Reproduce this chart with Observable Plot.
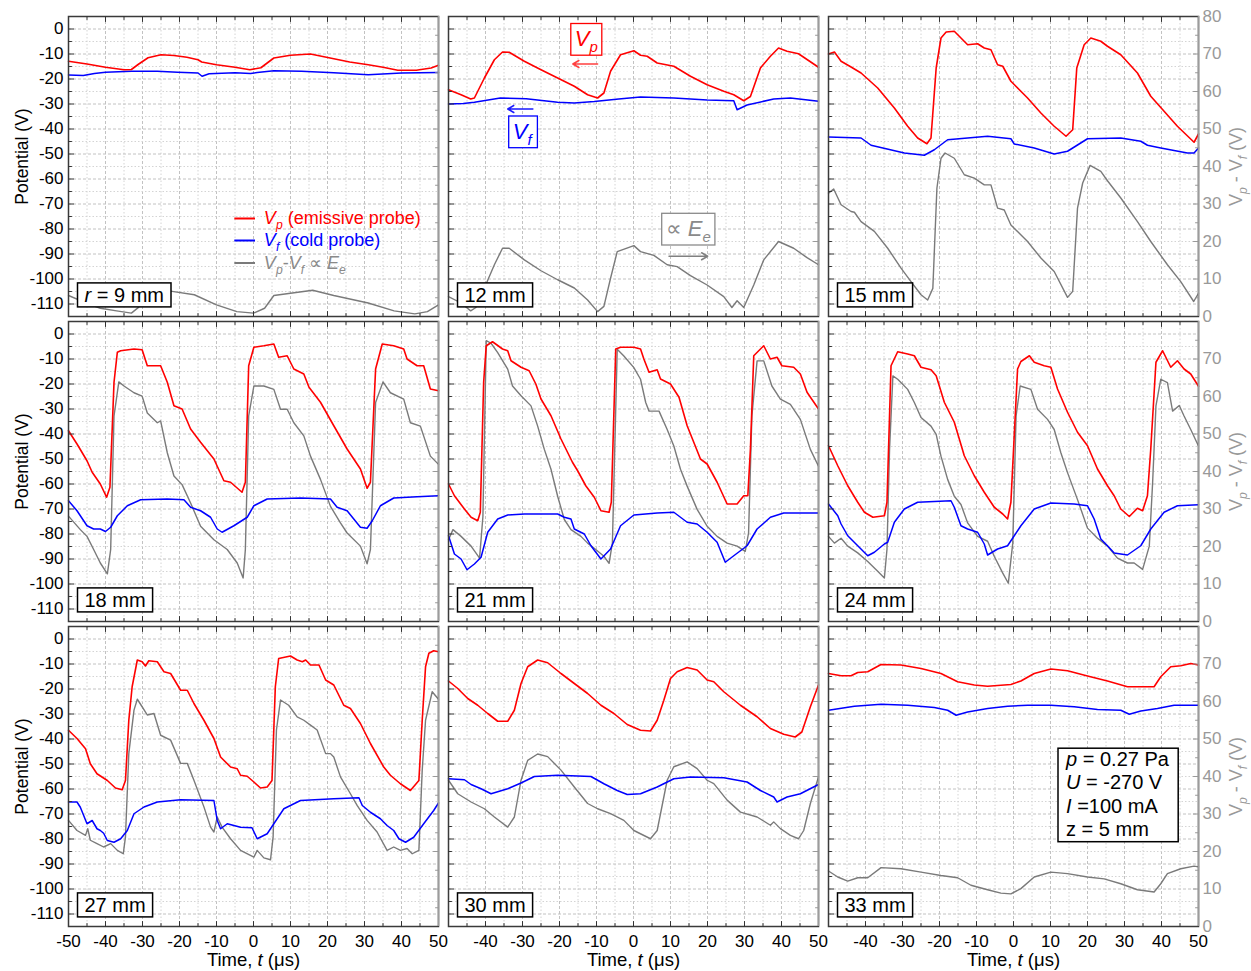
<!DOCTYPE html>
<html><head><meta charset="utf-8">
<script src="https://cdn.jsdelivr.net/npm/d3@7"></script>
<script src="https://cdn.jsdelivr.net/npm/@observablehq/plot@0.6"></script>
<style>html,body{margin:0;padding:0;background:#fff;overflow:hidden}</style>
</head><body><div id="chart"></div>
<script>
// ---------------- DATA (time t in µs, potential in V; dv = Vp - Vf on the right axis) ----------------
const panelLabels = ["*r* = 9 mm","12 mm","15 mm","18 mm","21 mm","24 mm","27 mm","30 mm","33 mm"];

const vp09 = [[-50,-12.9],[-45,-14],[-40,-15.3],[-35,-16.3],[-33,-16.2],[-31,-14],[-28.5,-11.5],[-25,-10.3],[-21.5,-10.6],[-18,-11.3],[-15,-12.3],[-14,-13.2],[-10,-14.3],[-5,-15.3],[-1,-16.3],[2,-15.5],[3.7,-13.6],[5.5,-11.6],[10,-10.5],[15.4,-10],[21.7,-11.9],[26,-13.2],[31,-14.3],[35,-15.3],[39,-16.5],[44,-16.5],[48,-15.6],[50,-14.5]];
const vf09 = [[-50,-18.4],[-46,-18.6],[-43,-17.8],[-40,-17.3],[-33,-16.9],[-26,-16.9],[-20.5,-17.3],[-15,-17.6],[-13.9,-18.9],[-12,-17.9],[-5,-17.5],[-0.8,-17.8],[1,-17.4],[5.5,-16.7],[13,-16.9],[21.7,-17.5],[31,-18.3],[40,-17.6],[50,-17.4]];
const dv09 = [[-50,5.6],[-45,3.5],[-41.4,2.2],[-37,1.5],[-33,0.9],[-31,2.5],[-29,5.5],[-26,7],[-22,6.7],[-16,5.8],[-10,3.1],[-4.5,1.3],[0,0.9],[3,2.2],[5.5,5.6],[10,6.2],[16,7],[21.7,5.6],[31,3.6],[38,1.5],[43.6,0.7],[47,1.3],[50,3.1]];

const vp12 = [[-50,-24.3],[-46.6,-26.3],[-44,-28],[-43,-27.6],[-40.3,-19.6],[-37.6,-12.3],[-35.4,-9.2],[-33.6,-9.3],[-29.5,-12.9],[-25,-16.3],[-20.5,-19.6],[-16,-22.9],[-12.4,-26.3],[-9.7,-27.6],[-8,-25.6],[-6.2,-16.9],[-3.5,-10.3],[0.1,-8.7],[1.9,-10.5],[3.7,-10.9],[6.4,-13.6],[10.9,-14.9],[15.4,-18.9],[19.9,-22.3],[24.4,-24.9],[27.1,-26.3],[29.8,-28.7],[31.6,-27],[34.3,-15.6],[37,-10.9],[39.2,-7.6],[41.5,-8.9],[44.6,-9.9],[47,-12.3],[50,-15.3]];
const vf12 = [[-50,-30],[-46,-29.8],[-43,-29.3],[-36,-27.6],[-29,-27.9],[-20.5,-29.3],[-16,-29.6],[-10.6,-29],[-4,-28],[1.9,-27.2],[10.9,-27.6],[19.9,-28.4],[27.1,-28.7],[28,-32.3],[30.7,-30.4],[37.9,-28],[42.4,-27.6],[50,-28.9]];
const dv12 = [[-50,5.3],[-46.6,3.6],[-44,1.5],[-42.6,2.4],[-40.3,7.6],[-37.6,13.8],[-35.4,18.2],[-33.6,18.2],[-29.5,15.1],[-25,12.2],[-20.5,9.8],[-16,7.6],[-12.4,4.4],[-9.7,1.3],[-8,2.7],[-6.2,10.2],[-4.4,17.3],[0.1,18.9],[1.9,17.3],[5.5,16.3],[9.1,13.8],[11.8,13.3],[15.4,10.9],[19.9,8.4],[24.4,5.3],[26.6,2.4],[28,4.2],[29.8,2.4],[32.5,8.4],[35.2,15.1],[39.2,20],[43.3,18.2],[46.9,15.7],[50,13.8]];

const vp15 = [[-50,-10],[-48.4,-9.2],[-46.6,-12.9],[-43.9,-15.2],[-41.2,-17.6],[-36.7,-23.6],[-32.2,-31.6],[-28.6,-38.9],[-25.9,-43.6],[-23.4,-45.9],[-22.3,-43.6],[-20.9,-15.6],[-19.6,-3.6],[-18.2,-1.2],[-16,-0.9],[-14.2,-3.6],[-12.4,-6.3],[-9.7,-5.9],[-7.9,-7.6],[-6.1,-8.3],[-4.3,-14.3],[-2.9,-14.9],[-0.7,-20.9],[3.8,-27.6],[7.4,-33.6],[11,-38.9],[14.2,-42.9],[16,-40.3],[17.1,-15.6],[19.1,-6.3],[20.9,-3.6],[23.6,-4.9],[25.4,-6.9],[29,-10.3],[33.5,-17.6],[37.1,-26.9],[40.7,-32.9],[44.3,-38.9],[48.8,-45.3],[50,-42]];
const vf15 = [[-50,-43.2],[-41.2,-43.6],[-38.5,-46.5],[-29.5,-49.6],[-24.1,-50.5],[-21.4,-48.3],[-17.8,-44.3],[-7,-42.9],[-0.7,-43.9],[0.2,-46],[5.6,-47.6],[11,-50],[14.6,-48.9],[20,-43.9],[29,-43.6],[34.4,-44.9],[36.2,-46.5],[39.8,-47.6],[43.4,-48.6],[47,-49.6],[48.8,-49.6],[50,-47.6]];
const dv15 = [[-50,32.9],[-48.6,34],[-46.6,29.8],[-43.9,28],[-43,27.8],[-41.2,25.3],[-37.6,22.7],[-34,18.2],[-30.4,12.9],[-27.7,9.3],[-25,5.8],[-23.2,4.4],[-21.8,7.5],[-20.7,34.2],[-19.6,42.2],[-18.5,43.6],[-16,42.2],[-13.3,37.8],[-10.6,36.9],[-7.9,35.1],[-6.1,35.1],[-4.3,28.9],[-2.5,28.4],[-0.7,24.4],[3.8,20],[7.4,15.6],[11,12],[14.6,5.1],[16,6.7],[17.3,28.9],[18.7,35.6],[20.7,40.3],[23.6,38.7],[25.4,36.2],[29,31.6],[33.5,25.3],[37.1,20],[41.6,13.8],[45.2,9.3],[48.7,4],[50,6.2]];

const vp18 = [[-50,-38.7],[-47.7,-44],[-45,-50.7],[-43.6,-55.3],[-41.4,-60],[-39.7,-65.3],[-38.8,-61.3],[-37.7,-19.3],[-36.8,-7.3],[-35.9,-6.7],[-32.3,-6],[-30.1,-6.3],[-28.7,-12.7],[-25.1,-12.7],[-23.3,-19.3],[-21.5,-28.7],[-19.3,-30],[-17,-38],[-14.3,-43.3],[-10.7,-50],[-8,-58.7],[-6.2,-59.3],[-3.1,-63.3],[-2.2,-59.3],[-1.3,-12.7],[0.1,-5.3],[2.8,-4.7],[5.5,-4],[6.8,-9.3],[9.1,-8.7],[10.9,-14],[13.6,-16],[15,-21.3],[18.1,-27.3],[21.7,-36.7],[25.3,-46],[28.9,-54],[30.7,-61.7],[31.6,-59.3],[33,-14],[34.8,-4],[37.9,-4.7],[40.6,-6],[41.5,-10],[44.2,-12.7],[46,-12.7],[47.8,-22],[50,-22.7]];
const vf18 = [[-50,-66.7],[-47.7,-70.7],[-45,-76.7],[-43.2,-78],[-41.4,-78],[-40,-79],[-38.6,-77.3],[-36.8,-72.7],[-34.1,-68.7],[-30.5,-66.3],[-23.3,-66],[-18.8,-66.3],[-17,-69.3],[-14.3,-70.7],[-11.6,-73.3],[-9.8,-78],[-8.5,-79.3],[-5.3,-76.7],[-1.7,-73.3],[0.1,-68.7],[3.7,-66],[12.7,-65.6],[20.8,-66],[22.6,-69.3],[25.3,-70.7],[27.1,-74],[28.9,-77.3],[30.7,-77.7],[32.1,-74.7],[34.3,-68.7],[37.9,-65.6],[44.2,-65.1],[50,-64.7]];
const dv18 = [[-50,28.1],[-46.8,24.5],[-45,22.7],[-43.2,19.2],[-41.4,15.6],[-39.5,12.7],[-38.6,19.2],[-37.7,54.8],[-36.4,63.9],[-35,62.8],[-32.3,61],[-30.1,60.1],[-28.7,55.6],[-26,53],[-25.1,53.5],[-23.3,45],[-21.5,38.8],[-19.3,36.5],[-17,31.6],[-14.3,25.4],[-10.7,21.8],[-7.1,19.2],[-4.4,15.6],[-2.8,11.6],[-2.2,19.2],[-1.3,54.8],[0.1,62.8],[2.8,62.8],[5.5,61.9],[7.3,56.6],[9.1,56.6],[10.9,53],[13.6,49.5],[15.4,44.1],[18.1,37.9],[20.8,30.7],[23.5,26.3],[25.3,23.6],[28.9,20.1],[30.7,15.4],[31.6,19.2],[33,58.4],[35,63.9],[37,61],[40.6,59.3],[42.4,53],[45.1,52.1],[47.8,44.1],[50,41.9]];

const vp21 = [[-50,-60],[-48.4,-64.7],[-45.7,-70],[-43.9,-73.3],[-42.1,-74.7],[-41.4,-71.3],[-40.5,-19.3],[-39.8,-4.7],[-38.1,-3.1],[-35.4,-6],[-34,-6.7],[-33.1,-10.7],[-30.4,-13.3],[-28.2,-14.7],[-26.4,-20],[-25,-26],[-22.3,-32.7],[-19.6,-42],[-16.5,-51.3],[-15.1,-54.7],[-12.9,-60.7],[-10.6,-65.3],[-8.8,-70.7],[-6.6,-71.3],[-6,-67.3],[-4.8,-6],[-3.5,-5.3],[0.1,-5.3],[1.9,-6],[2.8,-10],[4.2,-15.3],[6.4,-14.3],[7.3,-18],[10,-20],[12.3,-25.3],[14.5,-36.7],[18.1,-50],[19.9,-52],[22.6,-59.3],[25.3,-68],[28,-68],[29.8,-64.7],[30.9,-64.7],[31.6,-46],[32.5,-8.7],[35.2,-4.7],[37,-10],[38.8,-9.3],[40.1,-12.7],[43.3,-13.3],[45.1,-16],[46.9,-23.3],[50,-30]];
const vf21 = [[-50,-80.7],[-48.4,-88],[-46.6,-90],[-45,-94.3],[-43,-92],[-41.2,-89.3],[-39.4,-79.3],[-36.7,-74],[-34,-72.4],[-29.5,-72],[-20.5,-72],[-18.7,-73.3],[-16.9,-74],[-16,-78],[-13.3,-80],[-11.5,-84.7],[-8.8,-90],[-6.2,-86],[-3.5,-76.7],[0.1,-72.4],[6.4,-71.6],[10.9,-71.3],[14.5,-75.3],[17.2,-76],[19.9,-79.3],[22.6,-83.3],[24.8,-91.3],[27.1,-88.7],[30.7,-84.7],[33.4,-78],[37,-73.3],[40.6,-71.6],[50,-71.6]];
const dv21 = [[-50,21.8],[-48.8,24.5],[-46.6,22.7],[-43.9,20.1],[-41.6,16.9],[-40.7,28],[-39.8,74.9],[-38.5,74.2],[-36.7,71.7],[-34,67.3],[-32.7,62.8],[-30.4,60.2],[-27.7,57.5],[-25.9,52.1],[-24.1,45.9],[-22.3,40.6],[-20.5,33.4],[-18.7,27.2],[-16.9,24.5],[-14.2,22.7],[-12.4,20.9],[-10.2,19.2],[-8,17.4],[-6.6,15.5],[-5.7,21],[-4.4,72.6],[-2.6,70.8],[0.1,67.7],[1.9,64.6],[3.3,58.4],[4.2,56.1],[6.9,56.1],[9.1,51.2],[10.9,46.8],[12.7,40.6],[14.5,36.1],[17.2,29.9],[19.9,25.4],[22.6,22.7],[25.3,20.9],[28,20.1],[30.2,18.7],[31.1,23.6],[32,54.8],[33.4,69.5],[35.2,69.5],[37.4,62.8],[39.7,59.3],[42.4,57.9],[45.1,53.9],[47.8,45.9],[50,41.4]];

const vp24 = [[-50,-44.7],[-47.5,-52.7],[-44.8,-60.7],[-42.1,-67.3],[-40.3,-71.3],[-38,-73.3],[-34.9,-72.7],[-34.2,-67.3],[-33.1,-12.7],[-31.3,-7.1],[-28.6,-8],[-26.8,-8.7],[-25,-13.3],[-22.3,-14.3],[-20.9,-16.7],[-18.7,-27.3],[-16,-35.3],[-13.3,-48.7],[-10.6,-56.7],[-7.9,-63.3],[-5.2,-69.3],[-2.9,-72],[-1.6,-74],[-0.7,-67.3],[1.1,-14],[2,-11],[4.3,-8.7],[5.6,-11.3],[8.3,-12.7],[10.1,-13.3],[11.9,-22],[14.6,-31.3],[17.3,-39.3],[20,-44.7],[22.7,-54],[25.4,-60.7],[27.2,-64.7],[29,-70],[31.3,-73],[33.5,-69.7],[34.9,-70.7],[36.2,-64.7],[37.1,-46],[38.5,-11.3],[40.3,-6.7],[42.5,-13.3],[44.3,-10.7],[46.1,-14],[47.9,-16],[50,-20.9]];
const vf24 = [[-50,-68],[-47.5,-72.7],[-46.6,-76],[-44.8,-80.7],[-42.1,-84.7],[-39.4,-88.7],[-37.6,-87.3],[-34.9,-84],[-34,-83.3],[-32.2,-75.3],[-29.5,-70],[-25.9,-67.3],[-16.9,-66.7],[-16,-69.3],[-14.2,-76.7],[-12.4,-78],[-9.7,-79.3],[-7.9,-84],[-7,-88.4],[-4.3,-86],[-1.6,-84.7],[2,-76.7],[5.6,-70],[10.1,-67.6],[16.4,-68],[20,-68.7],[21.8,-74],[23.6,-82],[25.4,-84.7],[27.2,-87.6],[30.8,-88.4],[34.4,-84.7],[37.1,-78],[40.7,-71.3],[44.3,-68.7],[50,-68.3]];
const dv24 = [[-50,22.7],[-48.4,20.9],[-46.6,22.2],[-44.8,20.1],[-42.1,18.3],[-39.4,16],[-36.7,13.4],[-34.9,11.6],[-34.2,19.2],[-33.5,45.9],[-32.6,65.5],[-31.3,64.6],[-28.6,61.9],[-26.8,58.4],[-25,54.4],[-22.3,52.1],[-20.9,49.9],[-19.6,44.1],[-17.8,37.9],[-16,33.4],[-14.2,31.2],[-12.4,26.3],[-9.7,22.7],[-7,21.4],[-5.2,17.4],[-2.9,12.9],[-1.4,10.2],[-0.2,20.9],[0.7,54.8],[1.8,62.8],[4.7,61.9],[6.5,56.6],[9.2,53.9],[11,51.2],[12.8,45],[14.6,39.7],[17.3,32.5],[20,24.9],[22.7,22.2],[25.4,20.1],[28.1,16.9],[30.8,15.6],[32.6,15.6],[34.9,13.9],[36.7,20.1],[37.6,37],[38.5,57.5],[39.8,64.6],[41.6,63.7],[43,56.1],[44.8,57.6],[46.1,54.8],[47.9,51.2],[50,46.8]];

const vp27 = [[-50,-36.5],[-47.7,-39.8],[-45.4,-43.9],[-44.1,-49.9],[-42.3,-53.9],[-39.5,-56.6],[-37.3,-59.6],[-35.5,-60.3],[-34.6,-56.6],[-33.7,-32.5],[-32.8,-19.1],[-31.4,-8.4],[-30.1,-9.1],[-29.2,-10.8],[-28.3,-8.7],[-26,-9.1],[-24.2,-13.1],[-22.4,-13.8],[-19.7,-20.5],[-17.9,-20.5],[-16.1,-25.8],[-13.4,-32.5],[-10.7,-39.8],[-8.9,-47.2],[-6.2,-51.2],[-4.4,-51.9],[-3.5,-54.5],[-1.7,-54.9],[0.1,-57.2],[1.9,-59.6],[3.7,-59.2],[5,-56.6],[5.9,-19.1],[6.8,-7.8],[10,-6.8],[11.8,-8.4],[13.2,-9.1],[14.1,-8.4],[15.4,-10.4],[17.7,-10.4],[19.5,-16.4],[21.7,-18.4],[24.4,-26.5],[26.2,-27.8],[28.9,-33.8],[31.6,-41.8],[35.2,-51.2],[37,-54.5],[39.7,-57.9],[42.4,-60.6],[44.7,-56.6],[45.6,-32.5],[46.5,-11.1],[47.4,-5.7],[48.7,-4.7],[50,-5.1]];
const vf27 = [[-50,-65.2],[-47.7,-65.2],[-46.8,-67.3],[-45,-73.9],[-43.6,-72.6],[-42.3,-75.9],[-41.4,-76.6],[-40.5,-77.7],[-39.5,-80.6],[-37.7,-81.3],[-35.9,-79.9],[-34.1,-76.6],[-32.3,-69.9],[-29.6,-67.2],[-26,-65.2],[-19.7,-64.3],[-10.7,-64.6],[-9.8,-72.6],[-8.9,-75.9],[-7.1,-73.9],[-5.3,-74.6],[-3.5,-75.3],[-0.4,-75.5],[1,-79.9],[3.7,-77.9],[5.5,-73.9],[8.2,-67.9],[12.7,-64.6],[21.7,-63.9],[28.5,-63.5],[29.4,-66.6],[31.6,-69.3],[34.3,-71.9],[36.1,-74.6],[37.9,-76.6],[39.3,-79.9],[41.1,-81.3],[43.3,-79.3],[46,-73.9],[48.7,-68.6],[50,-65.6]];
const dv27 = [[-50,28.3],[-47.7,25.6],[-45.4,24.3],[-44.8,26.1],[-44.1,23],[-42.3,22.1],[-40.5,21.2],[-38.6,22.1],[-36.8,20.3],[-35.2,19.4],[-34.6,23.9],[-33.7,46.1],[-32.3,57.7],[-31.4,60.6],[-30.1,58.6],[-28.7,56.4],[-26.9,56.8],[-25.1,51],[-22.4,49.7],[-19.7,43.5],[-17.9,43.5],[-16.1,39],[-13.4,31.9],[-11.6,26.5],[-10.7,25.2],[-9.8,29.2],[-8.5,26.5],[-6.2,23.4],[-3.5,20.3],[0.1,18.5],[1,20.3],[2.8,18.3],[4.6,17.8],[5.3,23.9],[6.2,52.4],[7.3,60.4],[9.5,59],[11.8,55.9],[13.6,55],[15.4,53.7],[17.2,52.4],[19.5,46.1],[20.8,46.1],[21.7,45.2],[23.5,39.9],[26.2,35.4],[28,32.3],[30.7,28.3],[33.4,25.2],[36.1,20.3],[37.9,21.2],[39.7,20.3],[41.5,20.8],[42.9,19.4],[44.7,20.3],[45.6,41.7],[46.5,55],[48.3,62.6],[50,60.6]];

const vp30 = [[-50,-16.8],[-47.5,-19.8],[-44.8,-23.8],[-42.1,-26.5],[-39.4,-29.8],[-36.7,-32.9],[-34,-32.9],[-32.2,-28.5],[-30.4,-17.8],[-28.6,-11.1],[-25.9,-8.4],[-23.2,-9.5],[-19.6,-13.8],[-16,-17.8],[-12.4,-21.8],[-8.8,-26.5],[-5.3,-29.8],[-1.7,-34.2],[1.9,-36.5],[4.6,-36.8],[6.4,-32.5],[8.2,-24.5],[10,-15.8],[11.8,-13.1],[14.5,-11.4],[17.2,-12.4],[19.9,-16.4],[21.7,-17.1],[24.4,-21.1],[28.9,-26.5],[33.4,-31.1],[37,-35.8],[40.6,-38.1],[43.7,-39.2],[45.5,-37.2],[47.8,-27.1],[50,-18.4]];
const vf30 = [[-50,-55.9],[-45.7,-56.3],[-43.9,-58.2],[-41.2,-59.9],[-38.5,-61.9],[-34,-59.9],[-30.4,-57.6],[-26.8,-55],[-20.5,-54.5],[-11.5,-55],[-8,-57.9],[-4.4,-60.6],[-1.7,-62.2],[1.9,-61.9],[6.4,-59.2],[10.9,-55.9],[15.4,-55.2],[24.4,-55.5],[30.7,-57.2],[34.3,-60.6],[37.9,-63.2],[38.8,-65.2],[41.5,-63.2],[45.1,-61.9],[50,-58.2]];
const dv30 = [[-50,39],[-47.5,35.4],[-43.9,33.2],[-40.3,31.4],[-37.6,29.2],[-34,26.5],[-32.2,29.2],[-30.4,39],[-28.6,44.3],[-25.9,46],[-23.2,45.3],[-19.6,41.7],[-16,37.2],[-12.4,32.8],[-9.7,31.4],[-6.2,30.1],[-2.6,28.3],[0.1,25.6],[4.6,23.4],[6.4,25.6],[9.1,39],[10.9,42.6],[14.5,43.9],[17.2,42.1],[19.9,39],[21.7,38.1],[25.3,33.7],[28.9,30.5],[33.4,29.2],[37,27],[37.9,27.9],[39.7,26.1],[42.4,24.3],[44.6,23.4],[46,25.6],[47.8,32.8],[50,39.9]];

const vp33 = [[-50,-13.8],[-46.6,-14.7],[-43.9,-14.7],[-42.1,-13.4],[-39.4,-13.1],[-35.8,-10.2],[-30.4,-10.4],[-25,-11.8],[-19.6,-13.8],[-15.1,-17.1],[-10.6,-18.4],[-7,-18.9],[-0.7,-18.2],[2,-16.8],[5.6,-13.8],[10.1,-12],[14.6,-12.7],[20,-14.8],[25.4,-16.8],[30.8,-19.1],[38,-19.1],[39.8,-15.1],[42.5,-11.1],[45.2,-10.7],[47.9,-9.8],[50,-10.4]];
const vf33 = [[-50,-28.5],[-43,-26.9],[-35.8,-26.1],[-28.6,-26.5],[-21.4,-27.4],[-17.8,-28.5],[-15.5,-30.5],[-12.4,-29.2],[-7,-27.8],[-1.6,-26.9],[3.8,-26.5],[10.1,-26.5],[16.4,-27.1],[22.7,-28.2],[29,-28.5],[31.3,-30.1],[34.4,-28.8],[38.9,-27.8],[43.4,-26.5],[50,-26.5]];
const dv33 = [[-50,14.8],[-47.5,13.2],[-44.8,12.1],[-42.1,13],[-39.4,13],[-35.8,15.7],[-30.4,15.4],[-25,14.5],[-19.6,13.6],[-15.1,13],[-11.5,11],[-7,9.8],[-3.4,8.9],[-0.7,8.7],[2,10.1],[5.6,13.2],[10.1,14.5],[14.6,14.1],[20,13.2],[24.5,12.7],[29,11.4],[33.5,9.8],[38,9.2],[39.8,11.4],[41.6,14.1],[45.2,15.4],[48.8,16.1],[50,15.9]];

const vpSeries = [vp09, vp12, vp15, vp18, vp21, vp24, vp27, vp30, vp33];
const vfSeries = [vf09, vf12, vf15, vf18, vf21, vf24, vf27, vf30, vf33];
const dvSeries = [dv09, dv12, dv15, dv18, dv21, dv24, dv27, dv30, dv33];

// tick values
const xMajor = [-40,-30,-20,-10,0,10,20,30,40];
const xMinor = [-45,-35,-25,-15,-5,5,15,25,35,45];
const xLabels = [-40,-30,-20,-10,0,10,20,30,40,50];
const yMajor = [-110,-100,-90,-80,-70,-60,-50,-40,-30,-20,-10,0];
const yMinor = [-105,-95,-85,-75,-65,-55,-45,-35,-25,-15,-5];
const gMajor = [0,10,20,30,40,50,60,70];
const gMinor = [5,15,25,35,45,55,65,75];

// legend / annotation texts
const legendTexts = ["*V*_p_ (emissive probe)", "*V*_f_ (cold probe)", "*V*_p_-*V*_f_ ∝ *E*_e_"];
const noteTexts = ["*V*_p_", "*V*_f_", "∝ *E*_e_"];
const paramTexts = ["*p* = 0.27 Pa", "*U* = -270 V", "*I* =100 mA", "z = 5 mm"];

// ---------------- scales / layout ----------------
const Y0 = -115, Y1 = 5, G1 = 80;              // left axis domain; right axis 0..80
const g2v = g => Y0 + (Y1 - Y0) * g / G1;
const v2g = v => (v - Y0) * G1 / (Y1 - Y0);
const RED = "#ff0000", BLUE = "#0000ff", GRAY = "#7a7a7a", LGRAY = "#999999";

const rowsOf = (list, conv = v => v) =>
  list.flatMap((pts, i) => pts.map(([t, v]) => ({col: i % 3, row: Math.floor(i / 3), t, v: conv(v)})));
const dataVp = rowsOf(vpSeries), dataVf = rowsOf(vfSeries), dataDv = rowsOf(dvSeries, g2v);
const panels = panelLabels.map((label, i) => ({col: i % 3, row: Math.floor(i / 3), label}));

const legendLayout = [
  {t1: -5.05, t2: 0.54, tt: 2.8, v: -75.8, color: RED, tcolor: RED},
  {t1: -5.05, t2: 0.54, tt: 2.8, v: -84.6, color: BLUE, tcolor: BLUE},
  {t1: -5.05, t2: 0.54, tt: 2.8, v: -93.6, color: GRAY, tcolor: "#8a8a8a"}
].map((d, i) => ({...d, col: 0, row: 0, text: legendTexts[i]}));
const noteLayout = [
  {t: -12.76, v: -4.0, color: RED},
  {t: -30.1, v: -41.0, color: BLUE},
  {t: 14.8, v: -79.9, color: "#8a8a8a"}
].map((d, i) => ({...d, col: 1, row: 0, text: noteTexts[i]}));
const arrowLayout = [
  {t1: -9.7, t2: -16.4, v: -14.0, color: "#ff4040"},
  {t1: -27.2, t2: -34.0, v: -32.0, color: "#1a1aff"},
  {t1: 9.6, t2: 20.05, v: -90.9, color: "#808080"}
].map(d => ({...d, col: 1, row: 0}));
const paramLayout = [-48.3, -57.3, -67.2, -76.3].map((v, i) => ({col: 2, row: 2, t: 14.2, v, text: paramTexts[i]}));

const tickShape = {draw(ctx, l) { ctx.moveTo(0, 0); ctx.lineTo(0, -l); }};
const edge = (values, opts) => Plot.vector(values, {anchor: "start", shape: tickShape, strokeWidth: 1, ...opts});
const F = {fx: "col", fy: "row"};

const plot = Plot.plot({
  width: 1251, height: 971,
  marginLeft: 68, marginRight: 53, marginTop: 15, marginBottom: 45,
  style: {fontFamily: "'Liberation Sans', Arial, Helvetica, sans-serif", background: "#fff", color: "#000"},
  x: {domain: [-50, 50], axis: null},
  y: {domain: [Y0, Y1], axis: null},
  fx: {domain: [0, 1, 2], axis: null, paddingInner: 10 / 380, paddingOuter: 0},
  fy: {domain: [0, 1, 2], axis: null, paddingInner: 5.5 / 305.5, paddingOuter: 0},
  color: {type: "identity"},
  marks: [
    Plot.gridX(xMinor, {stroke: "#d4d4d4", strokeOpacity: 1, strokeDasharray: "1.5,2"}),
    Plot.gridX(xMajor, {stroke: "#c2c2c2", strokeOpacity: 1, strokeDasharray: "3,2"}),
    Plot.gridY(yMinor, {stroke: "#d4d4d4", strokeOpacity: 1, strokeDasharray: "1.5,2"}),
    Plot.gridY(yMajor, {stroke: "#c2c2c2", strokeOpacity: 1, strokeDasharray: "3,2"}),

    Plot.line(dataDv, {...F, x: "t", y: "v", stroke: GRAY, strokeWidth: 1.4}),
    Plot.line(dataVf, {...F, x: "t", y: "v", stroke: BLUE, strokeWidth: 1.5}),
    Plot.line(dataVp, {...F, x: "t", y: "v", stroke: RED, strokeWidth: 1.6}),

    Plot.frame({stroke: "#3a3a3a", strokeWidth: 1.5}),
    Plot.ruleX([50], {stroke: "#9c9c9c", strokeWidth: 1.5}),

    edge(yMajor, {y: d => d, frameAnchor: "left", rotate: 90, length: 5, stroke: "#333"}),
    edge(yMinor, {y: d => d, frameAnchor: "left", rotate: 90, length: 3, stroke: "#333"}),
    edge(gMajor.slice(1).map(g2v), {y: d => d, frameAnchor: "right", rotate: -90, length: 5, stroke: LGRAY}),
    edge(gMinor.map(g2v), {y: d => d, frameAnchor: "right", rotate: -90, length: 3, stroke: LGRAY}),
    edge(xMajor, {x: d => d, frameAnchor: "bottom", rotate: 0, length: 5, stroke: "#333"}),
    edge(xMinor, {x: d => d, frameAnchor: "bottom", rotate: 0, length: 3, stroke: "#333"}),
    edge(xMajor, {x: d => d, frameAnchor: "top", rotate: 180, length: 5, stroke: "#333"}),
    edge(xMinor, {x: d => d, frameAnchor: "top", rotate: 180, length: 3, stroke: "#333"}),

    // axes
    Plot.axisY({anchor: "left", ticks: yMajor, tickSize: 0, tickPadding: 5, tickFormat: d => String(d), fontSize: 17, label: null}),
    Plot.axisY({anchor: "right", ticks: gMajor.map(g2v), tickSize: 0, tickPadding: 4, tickFormat: v => String(Math.round(v2g(v))), fontSize: 17, color: LGRAY, label: null}),
    Plot.text([{col: 2, row: 0, g: 80}], {...F, frameAnchor: "top-right", textAnchor: "start", lineAnchor: "middle", dx: 4, text: d => String(d.g), fill: LGRAY, fontSize: 17}),
    Plot.axisX({anchor: "bottom", ticks: xLabels, tickSize: 0, tickPadding: 8, tickFormat: d => String(d), fontSize: 17, label: null}),
    Plot.text([{col: 0, row: 2, t: -50}], {...F, x: "t", frameAnchor: "bottom", textAnchor: "middle", lineAnchor: "top", dy: 8, text: d => String(d.t), fontSize: 17}),

    // axis titles
    Plot.text([0, 1, 2].map(r => ({col: 0, row: r})), {...F, frameAnchor: "left", textAnchor: "middle", lineAnchor: "middle", rotate: -90, dx: -46, dy: -10, text: () => "Potential (V)", fontSize: 17.5}),
    Plot.text([0, 1, 2].map(r => ({col: 2, row: r})), {...F, frameAnchor: "right", textAnchor: "middle", lineAnchor: "middle", rotate: -90, dx: 38, text: () => "V_p_ - V_f_ (V)", fill: LGRAY, fontSize: 18}),
    Plot.text([0, 1, 2].map(c => ({col: c, row: 2})), {...F, frameAnchor: "bottom", textAnchor: "middle", lineAnchor: "middle", dy: 34, text: () => "Time, *t* (μs)", fontSize: 18.5}),

    // legend
    Plot.ruleY(legendLayout, {...F, y: "v", x1: "t1", x2: "t2", stroke: "color", strokeWidth: 2}),
    Plot.text(legendLayout, {...F, x: "tt", y: "v", text: "text", fill: "tcolor", textAnchor: "start", lineAnchor: "middle", fontSize: 18}),

    // annotations
    Plot.arrow(arrowLayout, {...F, x1: "t1", y1: "v", x2: "t2", y2: "v", stroke: "color", strokeWidth: 1.5, headLength: 7}),
    Plot.text(noteLayout, {...F, x: "t", y: "v", text: "text", fill: "color", textAnchor: "middle", lineAnchor: "middle", fontSize: 22, ariaDescription: "note"}),

    // panel labels and parameter box
    Plot.text(panels, {...F, frameAnchor: "bottom-left", textAnchor: "start", lineAnchor: "middle", dx: 16, dy: -21, text: "label", fontSize: 20, fill: "#000", ariaDescription: "panel-label"}),
    Plot.text(paramLayout, {...F, x: "t", y: "v", text: "text", textAnchor: "start", lineAnchor: "middle", fontSize: 20, fill: "#000", ariaDescription: "params"})
  ]
});

document.getElementById("chart").appendChild(plot);

// ---------------- rich text (italics / subscripts) ----------------
const NS = "http://www.w3.org/2000/svg";
function richify(el) {
  const src = el.textContent;
  if (!/[*_]/.test(src)) return;
  const fs = parseFloat(getComputedStyle(el).fontSize) || 17;
  const shift = fs * 0.28;
  while (el.firstChild) el.removeChild(el.firstChild);
  let down = false;
  for (const m of src.matchAll(/\*([^*]+)\*|_([^_]+)_|([^*_]+)/g)) {
    const ts = document.createElementNS(NS, "tspan");
    if (m[2] !== undefined) {
      ts.textContent = m[2];
      ts.setAttribute("font-style", "italic");
      ts.setAttribute("font-size", (fs * 0.68).toFixed(1));
      if (!down) { ts.setAttribute("dy", shift.toFixed(1)); down = true; }
    } else {
      const italic = m[1] !== undefined;
      ts.textContent = italic ? m[1] : m[3];
      if (italic) ts.setAttribute("font-style", "italic");
      if (down) { ts.setAttribute("dy", (-shift).toFixed(1)); down = false; }
    }
    el.appendChild(ts);
  }
}
plot.querySelectorAll("text").forEach(richify);

// ---------------- boxes behind labelled texts ----------------
function drawBoxes(svg, label, {padL, padR, padT, padB, union = false, strokeWidth = 1.3, stroke}) {
  let texts = [...svg.querySelectorAll(`[aria-description="${label}"] text`)];
  if (!texts.length) texts = [...svg.querySelectorAll(`text[aria-description="${label}"], text[aria-label="${label}"]`)];
  if (!texts.length) return;
  const s = svg.getBoundingClientRect();
  let boxes = texts.map(t => {
    const r = t.getBoundingClientRect();
    return {x0: r.left - s.left, x1: r.right - s.left, y0: r.top - s.top, y1: r.bottom - s.top,
            color: stroke || getComputedStyle(t).fill};
  });
  if (union) boxes = [{x0: d3.min(boxes, b => b.x0), x1: d3.max(boxes, b => b.x1),
                       y0: d3.min(boxes, b => b.y0), y1: d3.max(boxes, b => b.y1), color: boxes[0].color}];
  let top = texts[0];
  while (top.parentNode && top.parentNode !== svg) top = top.parentNode;
  const g = document.createElementNS(NS, "g");
  for (const b of boxes) {
    const r = document.createElementNS(NS, "rect");
    r.setAttribute("x", (b.x0 - padL).toFixed(1));
    r.setAttribute("y", (b.y0 - padT).toFixed(1));
    r.setAttribute("width", (b.x1 - b.x0 + padL + padR).toFixed(1));
    r.setAttribute("height", (b.y1 - b.y0 + padT + padB).toFixed(1));
    r.setAttribute("fill", "#fff");
    r.setAttribute("stroke", b.color);
    r.setAttribute("stroke-width", strokeWidth);
    g.appendChild(r);
  }
  svg.insertBefore(g, top);
}
drawBoxes(plot, "panel-label", {padL: 7, padR: 7, padT: 1, padB: 1, stroke: "#000", strokeWidth: 1.5});
drawBoxes(plot, "note", {padL: 4, padR: 4, padT: 2.5, padB: 0, strokeWidth: 1.3});
drawBoxes(plot, "params", {padL: 7, padR: 8.5, padT: 0, padB: 1.5, union: true, stroke: "#000", strokeWidth: 1.5});
</script></body></html>
